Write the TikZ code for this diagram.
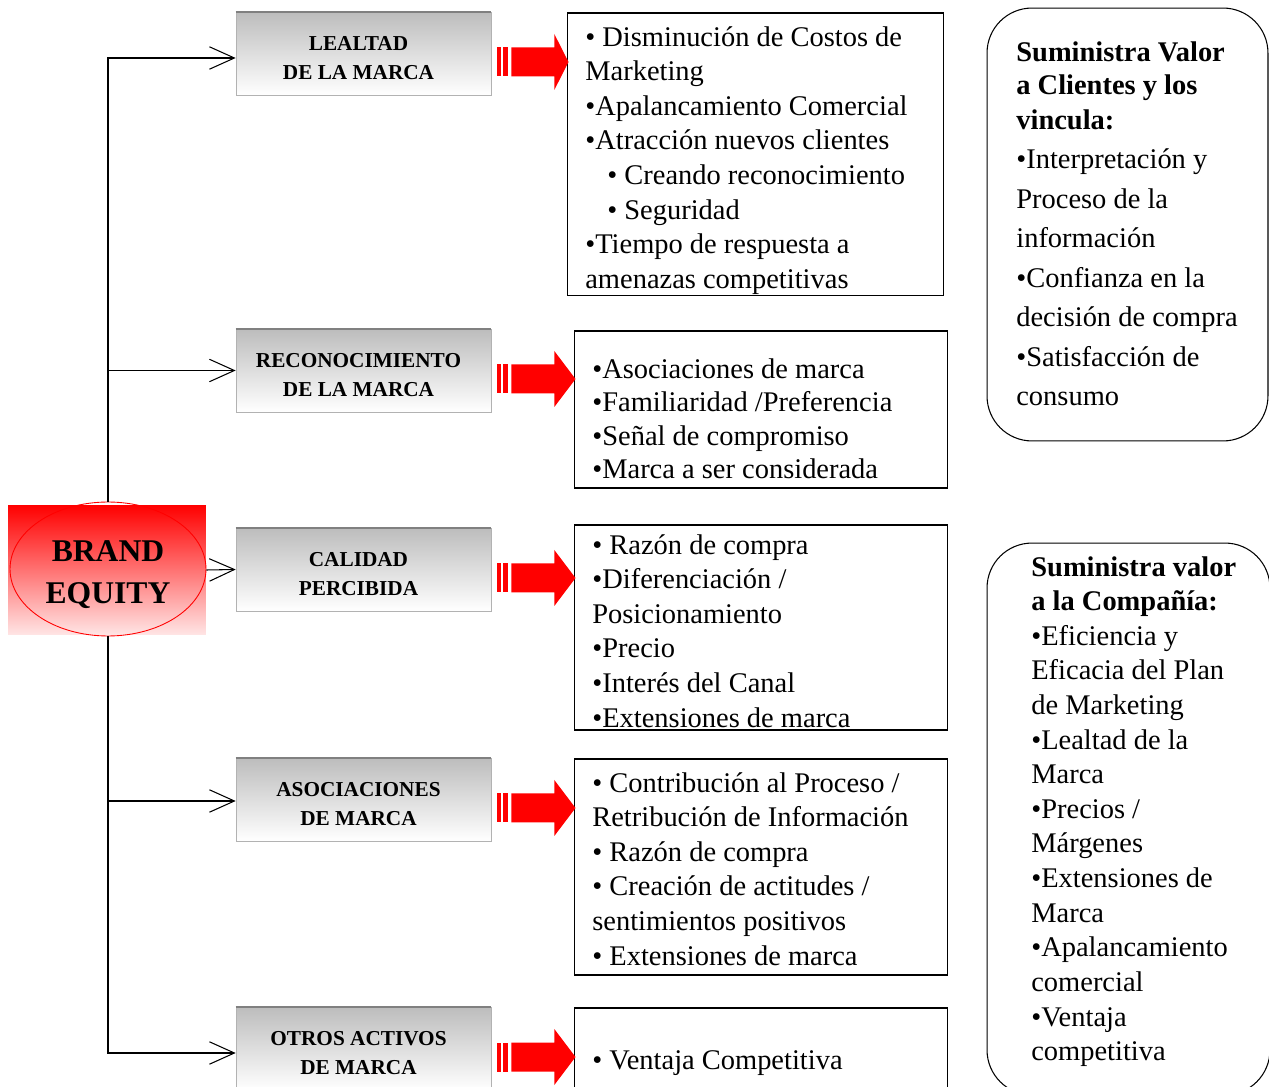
\documentclass[tikz,border=0pt]{standalone}
\usepackage{fontspec}
\setmainfont{Liberation Serif}
\usetikzlibrary{arrows.meta, positioning, calc, shapes.geometric}
\tikzset{
    brandbg/.style={rectangle, top color=red, bottom color=red!10, minimum width=3.96cm, minimum height=2.6cm, inner sep=0pt},
    brandell/.style={ellipse, draw=red, line width=0.5pt, minimum width=3.92cm, minimum height=2.68cm, inner sep=0pt},
    brandtext/.style={align=center, yshift=-0.12cm, font=\fontsize{18}{23.8}\selectfont\bfseries},
    factor/.style={rectangle, draw=gray!60, top color=gray!52, bottom color=white, minimum width=5.1cm, minimum height=1.66cm},
    factortext/.style={align=center, xshift=-0.1cm, yshift=-0.1cm, font=\fontsize{12.1}{16.5}\selectfont\bfseries},
    topedge/.style={draw=gray, line width=1.2pt},
    listbox/.style={rectangle, draw, line width=0.6pt, minimum width=7.48cm},
    listtext/.style={anchor=north west, inner sep=0pt, align=left, font=\fontsize{16.2}{19.7}\selectfont},
    valuebox/.style={rectangle, draw, line width=0.6pt, rounded corners=0.9cm},
    branch/.style={draw, line width=0.6pt, -{Straight Barb[length=5mm, width=4.5mm]}}
}
\begin{document}
\begin{tikzpicture}[x=0.02cm, y=-0.02cm]
    \useasboundingbox (0,0) rectangle (1269,1087);

    % brand equity
    \node[brandbg] (brandbg) at (107,570) {};
    \node[brandell, label={[brandtext]center:BRAND\\EQUITY}] (brand) at (108,569) {};

    % components
    \node[factor, label={[factortext]center:LEALTAD\\DE LA MARCA}] (lealtad) at (363.5,53.5) {};
    \node[factor, label={[factortext]center:RECONOCIMIENTO\\DE LA MARCA}] (reconocimiento) at (363.5,370.5) {};
    \node[factor, label={[factortext]center:CALIDAD\\PERCIBIDA}] (calidad) at (363.5,569.5) {};
    \node[factor, label={[factortext]center:ASOCIACIONES\\DE MARCA}] (asociaciones) at (363.5,799.5) {};
    \node[factor, label={[factortext]center:OTROS ACTIVOS\\DE MARCA}] (otros) at (363.5,1048.5) {};
    \foreach \f in {lealtad, reconocimiento, calidad, asociaciones, otros}
        \draw[topedge] (\f.north west) -- (\f.north east);

    % benefit boxes
    \node[listbox, minimum width=7.54cm, minimum height=5.66cm] (lealtadbox) at (755.5,154.5) {};
    \node[listbox, minimum height=3.14cm] (reconocimientobox) at (761,409.5) {};
    \node[listbox, minimum height=4.1cm] (calidadbox) at (761,627.5) {};
    \node[listbox, minimum height=4.32cm] (asociacionesbox) at (761,867) {};
    \node[listbox, minimum height=1.84cm] (otrosbox) at (761,1054) {};

    \node[listtext] (lealtadlist) at (585,26) {• Disminución de Costos de\\Marketing\\•Apalancamiento Comercial\\•Atracción nuevos clientes\\\hspace*{0.44cm}• Creando reconocimiento\\\hspace*{0.44cm}• Seguridad\\•Tiempo de respuesta a\\amenazas competitivas};
    \node[listtext, font=\fontsize{16.2}{19.1}\selectfont] (reconocimientolist) at (592,358) {•Asociaciones de marca\\•Familiaridad /Preferencia\\•Señal de compromiso\\•Marca a ser considerada};
    \node[listtext] (calidadlist) at (592,534) {• Razón de compra\\•Diferenciación /\\Posicionamiento\\•Precio\\•Interés del Canal\\•Extensiones de marca};
    \node[listtext] (asociacioneslist) at (592,772) {• Contribución al Proceso /\\Retribución de Información\\• Razón de compra\\• Creación de actitudes /\\sentimientos positivos\\• Extensiones de marca};
    \node[listtext] (otroslist) at (592,1050) {• Ventaja Competitiva};

    % value boxes
    \node[valuebox, minimum width=5.62cm, minimum height=8.66cm] (clientes) at (1127.5,224.5) {};
    \node[valuebox, minimum width=5.66cm, minimum height=11.04cm] (compania) at (1128.5,819) {};
    \node[listtext, font=\fontsize{16.2}{22.5}\selectfont] (clienteslist) at (1016,41) {\textbf{Suministra Valor}\\[-3.6pt]\textbf{a Clientes y los}\\[-2.6pt]\textbf{vincula:}\\•Interpretación y\\Proceso de la\\información\\•Confianza en la\\decisión de compra\\•Satisfacción de\\consumo};
    \node[listtext] (companialist) at (1031,556) {\textbf{Suministra valor}\\\textbf{a la Compañía:}\\•Eficiencia y\\Eficacia del Plan\\de Marketing\\•Lealtad de la\\Marca\\•Precios /\\Márgenes\\•Extensiones de\\Marca\\•Apalancamiento\\comercial\\•Ventaja\\competitiva};

    % connectors
    \draw[branch] (brand.north) |- ($(lealtad.west)+(0,4.5)$);
    \draw[branch] (brand.north) |- (reconocimiento.west);
    \draw[branch] (brandbg.east) -- (calidad.west);
    \draw[branch] (brand.south) |- ($(asociaciones.west)+(0,1.5)$);
    \draw[branch] (brand.south) |- ($(otros.west)+(0,4.5)$);

    \foreach \f/\l in {lealtad/lealtadbox, reconocimiento/reconocimientobox, calidad/calidadbox, asociaciones/asociacionesbox, otros/otrosbox}{
        \fill[red] ($(\f.east)+(6,-6)$) rectangle ($(\f.east)+(10,23)$);
        \fill[red] ($(\f.east)+(12,-6)$) rectangle ($(\f.east)+(17,23)$);
        \fill[red] ($(\f.east)+(20,-6)$) -- ($(\f.east)+(63,-6)$) -- ($(\f.east)+(63,-19.5)$)
            -- ($(\l.west |- \f.east)+(2,8.5)$) -- ($(\f.east)+(63,36.5)$) -- ($(\f.east)+(63,23)$)
            -- ($(\f.east)+(20,23)$) -- cycle;
    }
\end{tikzpicture}
\end{document}
